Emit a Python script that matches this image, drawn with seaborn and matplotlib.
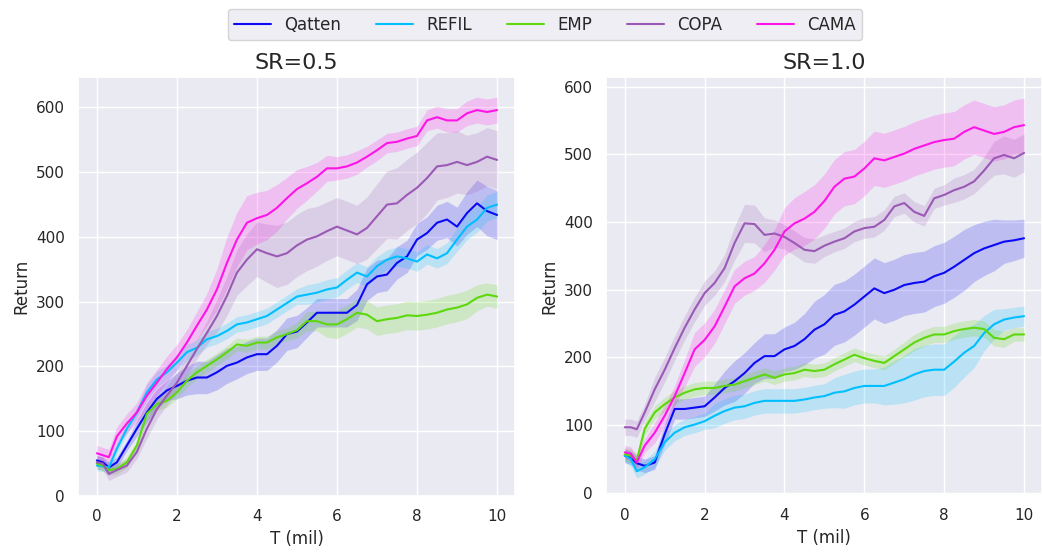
import numpy as np
import pandas as pd
import matplotlib
matplotlib.use("Agg")
import matplotlib.pyplot as plt
import seaborn as sns

# ---------------- data ----------------
T = [0, 0.15, 0.3, 0.5, 0.75, 1.0, 1.25, 1.5, 1.75, 2.0, 2.25, 2.5, 2.75, 3.0, 3.25, 3.5,
     3.75, 4.0, 4.25, 4.5, 4.75, 5.0, 5.25, 5.5, 5.75, 6.0, 6.25, 6.5, 6.75, 7.0, 7.25,
     7.5, 7.75, 8.0, 8.25, 8.5, 8.75, 9.0, 9.25, 9.5, 9.75, 10.0]

methods = ["Qatten", "REFIL", "EMP", "COPA", "CAMA"]
colors = ["#0a0af5", "#00bfff", "#5cd80c", "#9b59b6", "#ff14e8"]

# ---- SR = 0.5 (left) ----
qatten_05 = [55, 52, 44, 52, 78, 104, 129, 150, 163, 170, 178, 183, 183, 191, 201, 206,
             214, 219, 219, 232, 250, 254, 268, 283, 283, 283, 283, 295, 327, 339, 342,
             360, 370, 396, 406, 422, 427, 416, 437, 452, 440, 434]
qatten_05_hw = [8, 8, 8, 8, 8, 12, 15, 15, 15, 20, 22, 25, 25, 27, 27, 25,
                25, 25, 25, 25, 25, 25, 23, 22, 22, 22, 22, 24, 25, 25, 25,
                25, 25, 25, 25, 27, 28, 30, 33, 36, 38, 38]
refil_05 = [47, 46, 44, 73, 104, 129, 160, 180, 191, 206, 222, 229, 242, 247, 255, 265,
            268, 273, 278, 288, 298, 308, 311, 314, 319, 322, 334, 345, 339, 355, 365,
            370, 367, 362, 373, 367, 375, 396, 416, 427, 445, 450]
refil_05_hw = [8, 8, 8, 8, 8, 8, 12, 12, 12, 12, 12, 12, 12, 12, 12, 12,
               12, 12, 12, 12, 12, 12, 15, 15, 15, 15, 15, 15, 15, 15, 15,
               15, 15, 15, 15, 15, 16, 18, 20, 20, 20, 20]
emp_05 = [50, 47, 40, 42, 52, 78, 127, 142, 147, 160, 178, 191, 201, 211, 222, 234,
          232, 237, 237, 245, 250, 256, 270, 270, 265, 265, 273, 283, 280, 270, 273,
          275, 279, 278, 280, 283, 288, 291, 296, 306, 311, 308]
emp_05_hw = [8, 8, 8, 8, 8, 8, 10, 10, 10, 10, 10, 10, 10, 10, 10, 10,
             10, 10, 10, 10, 10, 12, 15, 15, 20, 22, 22, 22, 22, 22, 22,
             22, 22, 22, 22, 22, 22, 22, 22, 20, 18, 18]
copa_05 = [52, 50, 34, 40, 47, 68, 104, 134, 155, 175, 201, 227, 252, 278, 309, 345,
           365, 381, 375, 370, 375, 387, 396, 401, 409, 416, 410, 404, 414, 432, 450,
           452, 465, 476, 491, 509, 511, 516, 511, 516, 524, 519]
copa_05_hw = [10, 10, 10, 10, 10, 10, 15, 15, 15, 15, 15, 15, 18, 25, 30, 35,
              40, 42, 45, 48, 48, 48, 48, 46, 45, 45, 45, 45, 48, 50, 52,
              55, 55, 55, 55, 52, 50, 48, 46, 45, 45, 45]
cama_05 = [66, 63, 60, 92, 112, 129, 155, 175, 196, 214, 237, 263, 288, 319, 360, 396,
           422, 429, 434, 445, 460, 474, 483, 493, 506, 506, 509, 515, 524, 534, 545,
           547, 552, 556, 580, 585, 580, 580, 591, 596, 593, 596]
cama_05_hw = [12, 12, 12, 15, 15, 15, 20, 20, 20, 20, 20, 22, 25, 32, 40, 42,
              42, 40, 38, 36, 32, 30, 26, 22, 20, 18, 18, 18, 16, 16, 15,
              15, 15, 15, 16, 17, 18, 18, 19, 20, 20, 20]

# ---- SR = 1.0 (right) ----
qatten_10 = [55, 52, 44, 40, 45, 87, 124, 124, 126, 128, 141, 155, 165, 177, 192, 202,
             202, 212, 217, 227, 241, 249, 263, 268, 278, 290, 302, 295, 300, 307, 310,
             312, 320, 325, 334, 344, 354, 361, 366, 371, 373, 376]
qatten_10_hw = [10, 10, 10, 10, 10, 15, 15, 15, 15, 15, 20, 25, 30, 30, 30, 33,
                33, 33, 35, 38, 42, 44, 45, 45, 45, 45, 45, 45, 45, 45, 45,
                45, 45, 45, 45, 45, 42, 40, 38, 32, 30, 28]
refil_10 = [55, 50, 32, 38, 50, 75, 89, 97, 101, 106, 114, 121, 126, 128, 133, 136,
            136, 136, 136, 138, 141, 143, 148, 150, 155, 158, 158, 158, 163, 168, 175,
            180, 182, 182, 194, 207, 217, 236, 249, 256, 259, 261]
refil_10_hw = [10, 10, 10, 10, 12, 12, 12, 12, 12, 12, 18, 18, 18, 18, 18, 18,
               18, 18, 18, 18, 18, 18, 22, 25, 25, 25, 25, 28, 32, 35, 38,
               38, 38, 38, 38, 36, 32, 26, 22, 16, 15, 15]
emp_10 = [57, 55, 48, 95, 119, 131, 141, 148, 153, 155, 155, 158, 160, 165, 170, 175,
          170, 175, 177, 182, 180, 182, 190, 197, 204, 199, 195, 192, 202, 212, 222,
          229, 234, 234, 239, 242, 244, 242, 229, 227, 234, 234]
emp_10_hw = [10, 10, 10, 10, 10, 10, 10, 10, 10, 10, 10, 10, 10, 10, 10, 10,
             10, 10, 10, 10, 10, 10, 10, 10, 10, 10, 10, 10, 10, 11, 12,
             12, 12, 12, 12, 12, 12, 12, 12, 12, 10, 10]
copa_10 = [97, 97, 94, 119, 153, 182, 214, 244, 271, 295, 310, 332, 369, 398, 397, 381,
           383, 378, 369, 359, 357, 365, 371, 376, 386, 391, 393, 403, 423, 428, 415,
           409, 435, 440, 447, 452, 460, 476, 494, 499, 494, 502]
copa_10_hw = [12, 12, 12, 12, 18, 18, 18, 18, 18, 18, 18, 20, 25, 28, 28, 25,
              20, 18, 18, 18, 18, 16, 15, 15, 15, 15, 15, 15, 15, 15, 15,
              15, 15, 15, 18, 18, 18, 20, 25, 28, 28, 28]
cama_10 = [60, 58, 45, 70, 89, 114, 143, 177, 212, 226, 246, 275, 305, 317, 324, 339,
           359, 386, 398, 405, 415, 431, 452, 464, 467, 479, 494, 491, 496, 501, 508,
           513, 518, 521, 523, 533, 540, 535, 530, 533, 540, 543]
cama_10_hw = [10, 10, 10, 10, 15, 15, 15, 20, 25, 25, 25, 25, 25, 25, 25, 28,
              30, 35, 38, 40, 40, 40, 40, 40, 40, 40, 40, 40, 40, 40, 40,
              40, 40, 40, 40, 40, 40, 40, 40, 40, 40, 40]

panels = [
    ("SR=0.5", [qatten_05, refil_05, emp_05, copa_05, cama_05],
     [qatten_05_hw, refil_05_hw, emp_05_hw, copa_05_hw, cama_05_hw]),
    ("SR=1.0", [qatten_10, refil_10, emp_10, copa_10, cama_10],
     [qatten_10_hw, refil_10_hw, emp_10_hw, copa_10_hw, cama_10_hw]),
]

# ---------------- plot ----------------
sns.set_theme(style="darkgrid")
plt.rcParams['font.family'] = ['DejaVu Sans']

fig = plt.figure(figsize=(10.42, 5.57), dpi=100)
ax_pos = [[0.0749, 0.1095, 0.4194, 0.7522], [0.5816, 0.1113, 0.4184, 0.7504]]
ylims = [(0, 647), (-3, 614)]
palette = dict(zip(methods, colors))

for i, (title, means, hws) in enumerate(panels):
    ax = fig.add_axes(ax_pos[i])
    rows = []
    for m, vals in zip(methods, means):
        for t, v in zip(T, vals):
            rows.append({"T (mil)": t, "Return": v, "method": m})
    df = pd.DataFrame(rows)
    sns.lineplot(data=df, x="T (mil)", y="Return", hue="method", palette=palette,
                 hue_order=methods, ax=ax, linewidth=1.5, legend=(i == 0))
    for m, vals, hw in zip(methods, means, hws):
        v = np.array(vals, float)
        h = np.array(hw, float)
        ax.fill_between(T, v - h, v + h, color=palette[m], alpha=0.2, linewidth=0)
    ax.set_title(title, fontsize=16)
    ax.set_xlim(-0.47, 10.45)
    ax.set_ylim(*ylims[i])
    ax.set_xticks([0, 2, 4, 6, 8, 10])
    ax.set_yticks([0, 100, 200, 300, 400, 500, 600])
    ax.tick_params(labelsize=11)
    ax.set_xlabel("T (mil)", fontsize=12)
    ax.set_ylabel("Return", fontsize=12)
    if i == 0:
        handles, labels = ax.get_legend_handles_labels()
        ax.get_legend().remove()

fig.legend(handles, labels, loc="upper center", bbox_to_anchor=(0.523, 0.99),
           ncol=5, fontsize=12, frameon=True, handlelength=2.2, handletextpad=0.8,
           columnspacing=2.1, borderaxespad=0.2)

fig.savefig("out.png", dpi=100)
